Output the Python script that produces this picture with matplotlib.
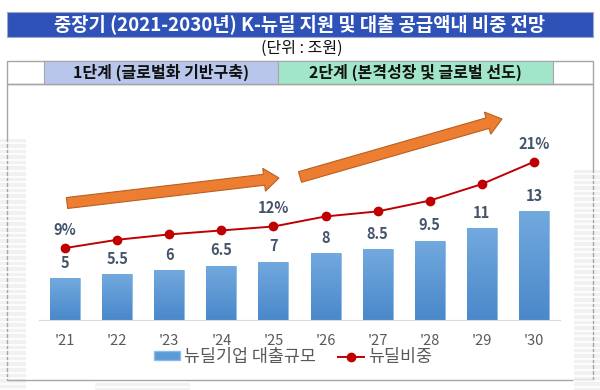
import numpy as np
import matplotlib.pyplot as plt
from matplotlib.patches import Rectangle, FancyArrow
from matplotlib.lines import Line2D
from matplotlib.colors import LinearSegmentedColormap

plt.rcParams['font.family'] = ['Noto Sans CJK KR', 'DejaVu Sans']

# data
years = ["'21", "'22", "'23", "'24", "'25", "'26", "'27", "'28", "'29", "'30"]
loans = [5, 5.5, 6, 6.5, 7, 8, 8.5, 9.5, 11, 13]
share = [9, 10.15, 10.9, 11.45, 12, 13.4, 14.1, 15.6, 17.9, 21]
share_labels = {0: '9%', 4: '12%', 9: '21%'}

title = '중장기 (2021-2030년) K-뉴딜 지원 및 대출 공급액내 비중 전망'
unit = '(단위 : 조원)'
stage1 = '1단계 (글로벌화 기반구축)'
stage2 = '2단계 (본격성장 및 글로벌 선도)'
legend_bar = '뉴딜기업 대출규모'
legend_line = '뉴딜비중'

fig = plt.figure(figsize=(6, 3.9), dpi=100)

# overlay in pixel coords for boxes / arrows
bg = fig.add_axes([0, 0, 1, 1], zorder=0)
bg.set_xlim(0, 600)
bg.set_ylim(390, 0)
bg.axis('off')

# light striped shadow at the edges
for (x0, x1, y0, y1) in [(0, 26, 139, 390), (574, 600, 170, 390), (95, 190, 383, 390)]:
    bg.add_patch(Rectangle((x0, y0), x1 - x0, y1 - y0, color='#F1F1F1', lw=0))
    for yy in np.arange(y0 + 4, y1, 5.6):
        bg.plot([x0, x1], [yy, yy], color='white', lw=1.2)

# title bar
bg.add_patch(Rectangle((7, 12), 586, 25, facecolor='#2F52B8', edgecolor='#9FA8C8', lw=0.8))
bg.text(300, 24.5, title, color='white', fontsize=13.5, fontweight='bold', ha='center', va='center')
bg.text(302, 48, unit, color='#111111', fontsize=11.5, ha='center', va='center')

# stage row
bg.add_patch(Rectangle((7, 61), 586, 23, facecolor='white', edgecolor='#A6A6A6', lw=1))
bg.add_patch(Rectangle((44, 61), 234, 23, facecolor='#B7C6EA', edgecolor='#A6A6A6', lw=0.8))
bg.add_patch(Rectangle((278, 61), 275, 23, facecolor='#A2E6C9', edgecolor='#A6A6A6', lw=0.8))
bg.text(161, 72.5, stage1, fontsize=11.5, fontweight='bold', ha='center', va='center', color='#111111')
bg.text(415.5, 72.5, stage2, fontsize=11.5, fontweight='bold', ha='center', va='center', color='#111111')

# chart frame
bg.add_patch(Rectangle((7, 84), 586, 296, facecolor='none', edgecolor='#A6A6A6', lw=1))

# orange arrows
bg.add_patch(FancyArrow(67, 203, 212, -25, width=11, head_width=23, head_length=15,
                        length_includes_head=True, facecolor='#ED7D31', edgecolor='#B8601F', lw=0.8))
bg.add_patch(FancyArrow(300, 177, 202, -58, width=11, head_width=23, head_length=15,
                        length_includes_head=True, facecolor='#ED7D31', edgecolor='#B8601F', lw=0.8))

# main chart
ax = fig.add_axes([39 / 600, 70 / 390, 521 / 600, 220 / 390], zorder=2)
ax.patch.set_alpha(0)
x = np.arange(len(years))
bars = ax.bar(x, loans, width=0.575, color='#5B9BD5', edgecolor='#8DBBE6', lw=0.6, zorder=2)

# gradient fill in the bars
cmap = LinearSegmentedColormap.from_list('bl', ['#4A88CA', '#72A9DE'])
grad = np.linspace(0, 1, 100).reshape(-1, 1)
for b in bars:
    im = ax.imshow(grad, extent=[b.get_x(), b.get_x() + b.get_width(), 0, b.get_height()],
                   aspect='auto', cmap=cmap, origin='lower', zorder=2.5)
    im.set_clip_path(b)

for i, v in enumerate(loans):
    ax.annotate(f'{v:g}', (i, v), xytext=(0, 11), textcoords='offset points',
                ha='center', va='center', fontsize=10.5, fontweight='bold', color='#44546A')

ax.set_xlim(-0.5, 9.5)
ax.set_ylim(0, 26.35)
ax.set_xticks(x)
ax.set_xticklabels(years, fontsize=10.5, color='#595959')
ax.tick_params(axis='x', length=0, pad=10)
ax.set_yticks([])
for s in ['top', 'left', 'right']:
    ax.spines[s].set_visible(False)
ax.spines['bottom'].set_color('#D9D9D9')

ax2 = ax.twinx()
ax2.plot(x, share, color='#C00000', lw=1.4, marker='o', markersize=6, zorder=3)
for i, lab in share_labels.items():
    ax2.annotate(lab, (i, share[i]), xytext=(0, 13), textcoords='offset points',
                 ha='center', va='center', fontsize=10.5, fontweight='bold', color='#44546A')
ax2.set_ylim(-1.01, 29.6)
ax2.set_yticks([])
for s in ax2.spines.values():
    s.set_visible(False)

handles = [Rectangle((0, 0), 1, 1, facecolor='#5B9BD5', edgecolor='#8DBBE6'),
           Line2D([], [], color='#C00000', lw=1.4, marker='o', markersize=6)]
fig.legend(handles, [legend_bar, legend_line], loc='center', bbox_to_anchor=(293 / 600, 1 - 357 / 390),
           ncol=2, frameon=False, fontsize=12.5, handlelength=1.5, handleheight=0.45,
           handletextpad=0.2, columnspacing=1.3, labelcolor='#595959')

fig.savefig('out.png', dpi=100)
